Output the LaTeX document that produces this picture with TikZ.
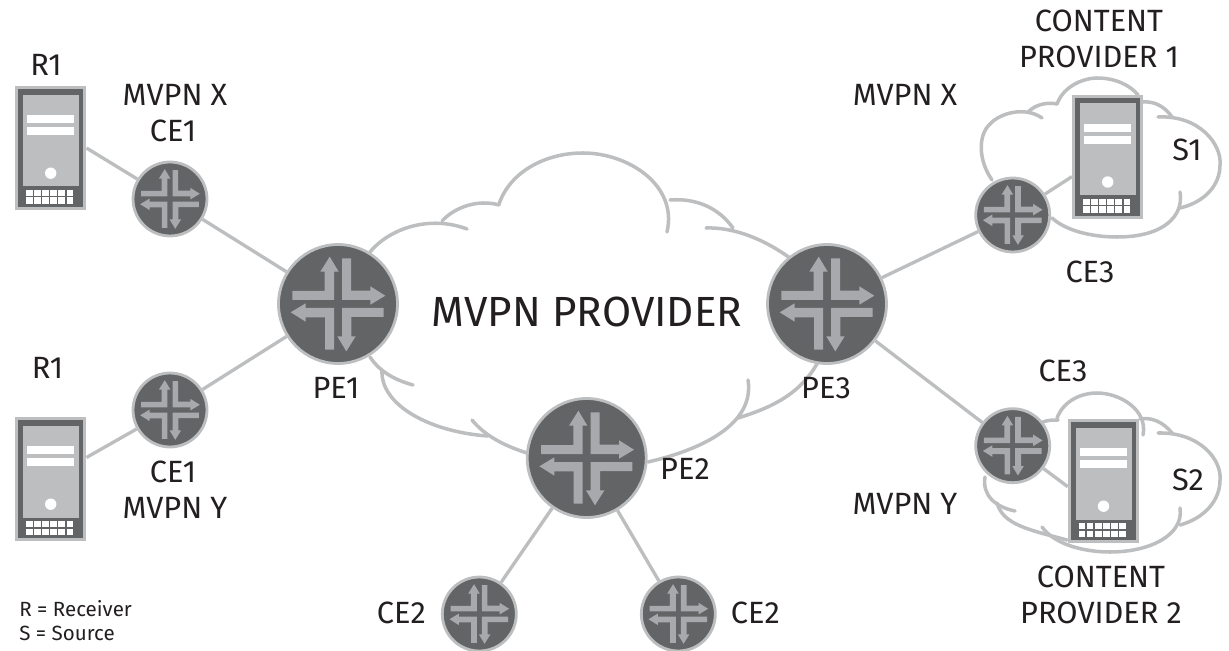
\documentclass[tikz,border=0pt]{standalone}
\usepackage{fontspec}
\setmainfont{Fira Sans}
\usepackage{tikz}
\usepackage{xcolor}
\definecolor{edgegray}{HTML}{BCBEC0}
\definecolor{darkgray}{HTML}{636466}
\definecolor{arrowgray}{HTML}{A7A9AC}
\definecolor{inkblack}{HTML}{231F20}
\tikzset{
	cloudline/.style={draw=edgegray,line width=2pt,line cap=round},
	linkline/.style={draw=edgegray,line width=1.9pt},
	router/.style={circle,draw=edgegray,fill=darkgray,line width=1.6pt,inner sep=0pt},
	bigrouter/.style={router,minimum size=2.38cm},
	smallrouter/.style={router,minimum size=1.48cm},
	server/.style={rectangle,draw=edgegray,fill=darkgray,line width=2pt,inner sep=0pt,minimum width=1.36cm,minimum height=2.42cm},
	tag/.style={inner sep=0pt,text=inkblack,font=\fontsize{17.5}{20}\selectfont},
	smalltag/.style={tag,font=\fontsize{11.7}{15}\selectfont},
	routerarrows/.pic={
		\foreach \a in {0,90,180,270}{
			\fill[arrowgray,rotate=\a] (-45.7,-13) -- (-13.3,-13) -- (-13.3,-32.3) -- (-17.7,-32.3) -- (-8.3,-47.3) -- (0.7,-32.3) -- (-4,-32.3) -- (-4,-4) -- (-45.7,-4) -- cycle;
		}
	},
	serverfront/.pic={
		\fill[edgegray] (-28,-53.3) rectangle (28,38.5);
		\fill[white] (-24,-33.2) rectangle (23.5,-24.8);
		\fill[white] (-24,-21.2) rectangle (23.5,-13);
		\fill[white] (0,25.2) circle (5.7);
		\foreach \c in {0,...,5}{
			\fill[white] (-24.7+8.1*\c,41.8) rectangle ++(6.5,6);
			\fill[white] (-24.7+8.1*\c,49.5) rectangle ++(6.5,6.5);
		}
	}
}
\begin{document}
\begin{tikzpicture}[x=0.02cm,y=-0.02cm]
	\useasboundingbox (0,0) rectangle (1229,651);

	\draw[cloudline] (370,252) .. controls (390,228) and (430,215) .. (467,229);
	\draw[cloudline] (442,221) .. controls (455,207) and (478,199) .. (499,205);
	\draw[cloudline] (499,204) .. controls (510,172) and (545,153) .. (583,153) .. controls (628,153) and (678,185) .. (667,232);
	\draw[cloudline] (670,200) .. controls (695,198) and (718,207) .. (733,228);
	\draw[cloudline] (706,228) .. controls (735,227) and (765,240) .. (790,258);
	\draw[cloudline] (370,357) .. controls (380,372) and (395,380) .. (413,385);
	\draw[cloudline] (382,370) .. controls (380,405) and (430,432) .. (488,436);
	\draw[cloudline] (472,420) .. controls (485,436) and (505,446) .. (527,453);
	\draw[cloudline] (648,462) .. controls (700,450) and (755,425) .. (748,380);
	\draw[cloudline] (738,418) .. controls (770,408) and (800,395) .. (818,362);

	\draw[cloudline] (992,180) .. controls (978,160) and (978,135) .. (990,124) .. controls (1000,113) and (1025,106) .. (1042,118);
	\draw[cloudline] (1028,112) .. controls (1036,104) and (1048,102) .. (1057,104);
	\draw[cloudline] (1057,104) .. controls (1064,85) and (1085,78) .. (1097,78) .. controls (1115,78) and (1130,85) .. (1138,95);
	\draw[cloudline] (1143,102) .. controls (1155,101) and (1165,107) .. (1172,117);
	\draw[cloudline] (1158,117) .. controls (1200,115) and (1222,145) .. (1220,165) .. controls (1220,185) and (1205,202) .. (1180,208);
	\draw[cloudline] (1180,192) .. controls (1184,215) and (1165,237) .. (1117,237) .. controls (1090,237) and (1065,230) .. (1052,218);

	\draw[cloudline] (1043,422) .. controls (1048,420) and (1053,420) .. (1058,420);
	\draw[cloudline] (1057,418) .. controls (1064,400) and (1082,393) .. (1097,393) .. controls (1120,393) and (1148,410) .. (1143,435);
	\draw[cloudline] (1140,419) .. controls (1152,417) and (1163,422) .. (1172,433);
	\draw[cloudline] (1158,433) .. controls (1200,432) and (1222,460) .. (1220,480) .. controls (1220,500) and (1205,518) .. (1180,525);
	\draw[cloudline] (1180,508) .. controls (1184,535) and (1150,552) .. (1110,552) .. controls (1085,552) and (1055,545) .. (1042,527);
	\draw[cloudline] (997,503) .. controls (1003,525) and (1030,530) .. (1067,540);
	\draw[cloudline] (985,477) .. controls (982,495) and (995,507) .. (1015,511);

	\node[server] (rxa) at (50.7,148) {};
	\node[server] (rxb) at (50.7,479) {};
	\node[server] (sxa) at (1107.7,156.8) {};
	\node[server] (sxb) at (1103.5,481) {};
	\foreach \n in {rxa,rxb,sxa,sxb}{
		\pic at (\n) {serverfront};
	}

	\foreach \n/\x/\y in {pea/338/304,pec/827/304,peb/586.7/458}{
		\node[bigrouter] (\n) at (\x,\y) {};
	}
	\foreach \n/\x/\y in {cea/170/199,ceb/170/410,cec/479.3/614,ced/678.3/614,cee/1012.7/215,cef/1012.7/445.7}{
		\node[smallrouter] (\n) at (\x,\y) {};
	}

	\draw[linkline] (rxa.east) -- (cea);
	\draw[linkline] (cea) -- (pea);
	\draw[linkline] (rxb.31) -- (ceb);
	\draw[linkline] (ceb) -- (pea);
	\draw[linkline] (peb) -- (cec);
	\draw[linkline] (peb) -- (ced);
	\draw[linkline] (pec) -- (cee);
	\draw[linkline] (cee) -- (sxa.209);
	\draw[linkline] (pec) -- (cef);
	\draw[linkline] (cef) -- (sxb.189);

	\foreach \n in {pea,pec,peb}{
		\pic at (\n) {routerarrows};
	}
	\foreach \n in {cea,ceb,cec,ced,cee,cef}{
		\pic[scale=0.63] at (\n) {routerarrows};
	}

	\node[tag] (ra) at (46,65) {R1};
	\node[tag] (mx) at (175,94.5) {MVPN X};
	\node[tag] (ca) at (173,130.5) {CE1};
	\node[tag] (rb) at (47.5,368) {R1};
	\node[tag] (cb) at (173,472) {CE1};
	\node[tag] (my) at (175,508) {MVPN Y};
	\node[smalltag,anchor=west] (lr) at (19,609) {R = Receiver};
	\node[smalltag,anchor=west] (ls) at (19,633) {S = Source};
	\node[tag] (pa) at (336,388) {PE1};
	\node[tag] (pb) at (685,469) {PE2};
	\node[tag] (pc) at (826,388) {PE3};
	\node[tag] (cc) at (401.3,613) {CE2};
	\node[tag] (cd) at (755.3,613) {CE2};
	\node[tag,font=\fontsize{24}{30}\selectfont] (mv) at (587,312) {MVPN PROVIDER};
	\node[tag] (cpa) at (1099,20.5) {CONTENT};
	\node[tag] (cpb) at (1099,57) {PROVIDER 1};
	\node[tag] (mxr) at (905,94.5) {MVPN X};
	\node[tag] (ce) at (1090,272) {CE3};
	\node[tag] (cf) at (1063,370.7) {CE3};
	\node[tag] (sa) at (1187,150.3) {S1};
	\node[tag] (sb) at (1188,480) {S2};
	\node[tag] (myr) at (905,503.5) {MVPN Y};
	\node[tag] (cpc) at (1101,577) {CONTENT};
	\node[tag] (cpd) at (1101,613) {PROVIDER 2};
\end{tikzpicture}
\end{document}
